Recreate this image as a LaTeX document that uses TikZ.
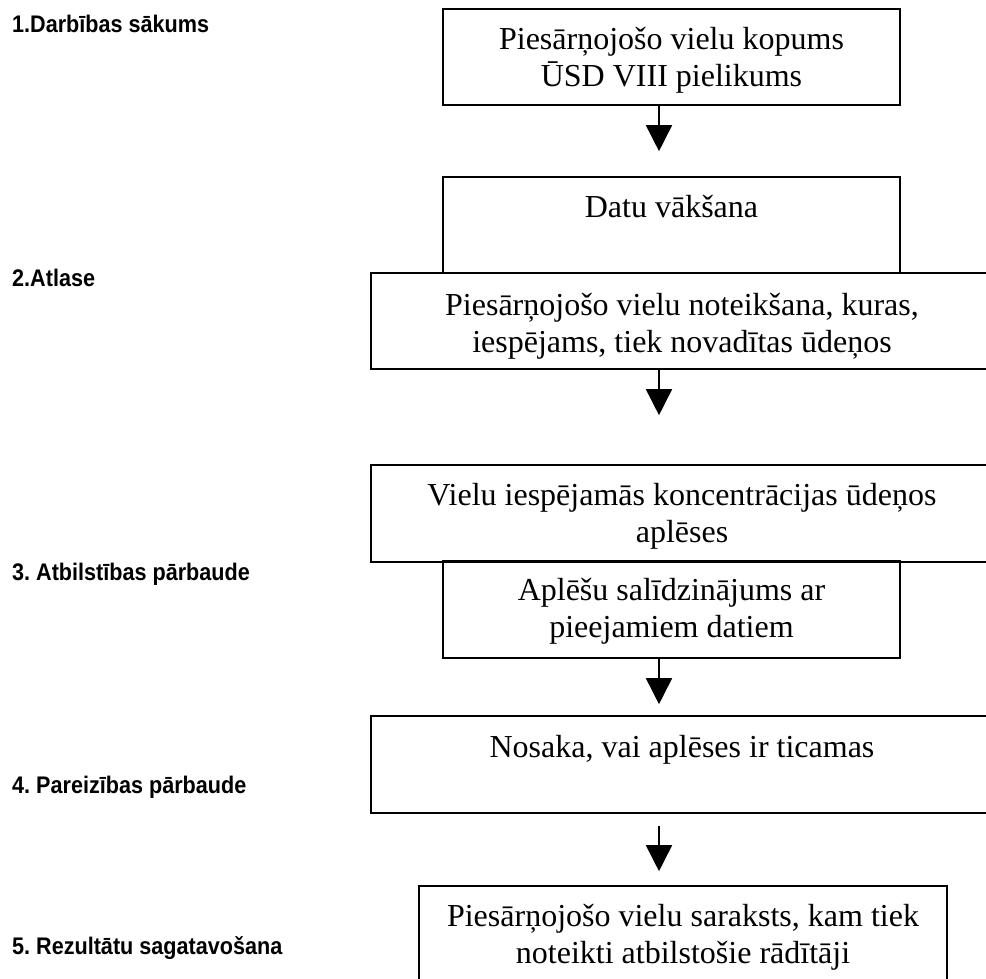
\documentclass[tikz,border=0pt]{standalone}
\usepackage{fontspec}
\setmainfont{Liberation Serif}
\newfontfamily\labfont[FakeStretch=0.9]{Liberation Sans}
\usetikzlibrary{arrows.meta}
\tikzset{
  box/.style={draw, line width=1.6pt, rectangle, inner sep=0pt},
  txt/.style={anchor=base, inner sep=0pt, align=center, font=\fontsize{32}{37}\selectfont},
  lab/.style={anchor=base west, inner sep=0pt, font=\labfont\bfseries\fontsize{24}{28}\selectfont},
  arr/.style={line width=1.6pt, -{Triangle[width=26pt,length=26pt]}}
}
\frenchspacing
\begin{document}
\begin{tikzpicture}[x=1pt,y=-1pt]
\useasboundingbox (0,0) rectangle (986,979);
\clip (0,0) rectangle (986,979);
% labels
\node[lab] (l1) at (12,33) {1.Darbības sākums};
\node[lab] (l2) at (12,286) {2.Atlase};
\node[lab] (l3) at (12,580) {3. Atbilstības pārbaude};
\node[lab] (l4) at (12,793) {4. Pareizības pārbaude};
\node[lab] (l5) at (12,954) {5. Rezultātu sagatavošana};
% boxes
\node[box, minimum width=457pt, minimum height=96pt] (b1) at (671.5,57) {};
\node[box, minimum width=457pt, minimum height=96pt] (b2) at (671.5,225) {};
\node[box, minimum width=622pt, minimum height=96pt] (b3) at (682,321) {};
\node[box, minimum width=622pt, minimum height=97pt] (b4) at (682,513.5) {};
\node[box, minimum width=457pt, minimum height=97pt] (b5) at (671.5,609.5) {};
\node[box, minimum width=622pt, minimum height=97pt] (b6) at (682,764.5) {};
\node[box, minimum width=528pt, minimum height=97pt] (b7) at (683,934.5) {};
% texts (anchor = baseline of the last line)
\node[txt] (t1) at (671.5,87) {Piesārņojošo vielu kopums\\ŪSD VIII pielikums};
\node[txt] (t2) at (671.5,218) {Datu vākšana};
\node[txt] (t3) at (682,352) {Piesārņojošo vielu noteikšana, kuras,\\iespējams, tiek novadītas ūdeņos};
\node[txt] (t4) at (682,542) {Vielu iespējamās koncentrācijas ūdeņos\\aplēses};
\node[txt] (t5) at (671.5,637) {Aplēšu salīdzinājums ar\\pieejamiem datiem};
\node[txt] (t6) at (682,757) {Nosaka, vai aplēses ir ticamas};
\node[txt] (t7) at (683,963) {Piesārņojošo vielu saraksts, kam tiek\\noteikti atbilstošie rādītāji};
% arrows
\coordinate (ax) at (659,0);
\draw[arr, shorten >=25pt] (b1.south -| ax) -- (b2.north -| ax);
\draw[arr, shorten >=49pt] (b3.south -| ax) -- (b4.north -| ax);
\draw[arr, shorten >=11pt] (b5.south -| ax) -- (b6.north -| ax);
\draw[arr, shorten <=12pt, shorten >=14pt] (b6.south -| ax) -- (b7.north -| ax);
\end{tikzpicture}
\end{document}
